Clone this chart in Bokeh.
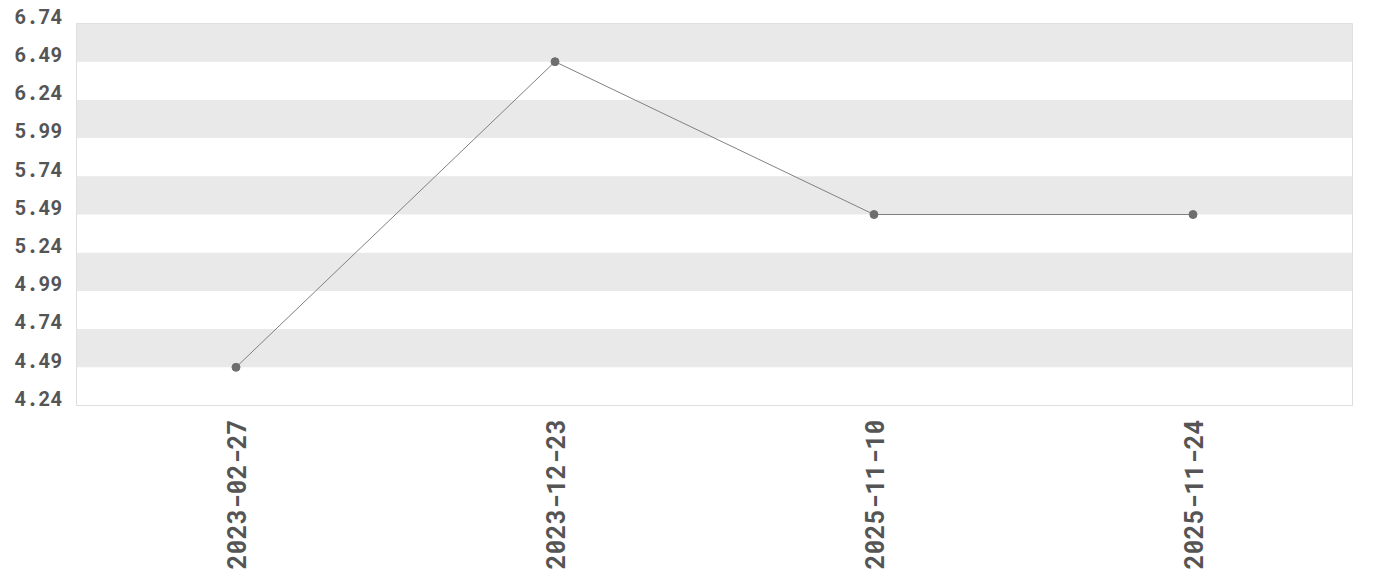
import math
from bokeh.plotting import figure
from bokeh.models import FixedTicker, Range1d, CustomJSTickFormatter
from bokeh.embed import file_html
from bokeh.resources import INLINE

dates = ["2023-02-27", "2023-12-23", "2025-11-10", "2025-11-24"]
values = [4.49, 6.49, 5.49, 5.49]
y_ticks = [4.24, 4.49, 4.74, 4.99, 5.24, 5.49, 5.74, 5.99, 6.24, 6.49, 6.74]

FONT = "Roboto Mono"

p = figure(x_range=dates, y_range=Range1d(4.24, 6.74), width=1364, height=572,
           output_backend="svg", toolbar_location=None,
           min_border_left=76, min_border_right=12, min_border_top=23, min_border_bottom=0)

p.background_fill_color = "white"
p.border_fill_color = "white"
p.outline_line_color = "#dddddd"
p.outline_line_width = 1

p.xgrid.grid_line_color = None
p.ygrid.grid_line_color = None
p.ygrid.ticker = FixedTicker(ticks=y_ticks)
p.ygrid.band_fill_color = "#e9e9e9"
p.ygrid.band_fill_alpha = 1.0

p.yaxis.ticker = FixedTicker(ticks=y_ticks)
p.yaxis.formatter = CustomJSTickFormatter(code="return tick.toFixed(2) + '\\n';")

for ax in (p.xaxis[0], p.yaxis[0]):
    ax.axis_line_color = None
    ax.major_tick_line_color = None
    ax.minor_tick_line_color = None
    ax.major_tick_out = 0
    ax.major_tick_in = 0
    ax.major_label_text_font = FONT
    ax.major_label_text_font_style = "bold"
    ax.major_label_text_color = "#555555"

p.yaxis.major_label_text_font_size = "20px"
p.yaxis.major_label_standoff = 14
p.yaxis.major_label_text_line_height = 0.6

p.xaxis.major_label_text_font_size = "25px"
p.xaxis.major_label_orientation = math.pi / 2
p.xaxis.major_label_standoff = 14
p.x_range.range_padding = 0

p.line(dates, values, line_color="#808080", line_width=1)
p.scatter(dates, values, size=8, fill_color="#6e6e6e", line_color="#6e6e6e")

open("out.html", "w").write(file_html(p, INLINE))
